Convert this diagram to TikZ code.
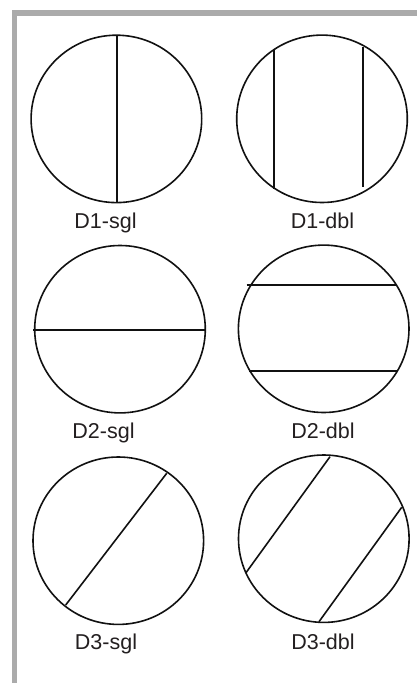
\documentclass[tikz,border=0pt]{standalone}
\usepackage{fontspec}
\setmainfont{Liberation Sans}
\usetikzlibrary{shapes.geometric}
\definecolor{framegray}{HTML}{ABABAB}
\definecolor{inkc}{HTML}{111111}
\definecolor{txtc}{HTML}{231F20}
\begin{document}
\begin{tikzpicture}[x=1pt,y=-1pt,
  disc/.style={draw=inkc,line width=1.6pt,ellipse,minimum width=170.6pt,minimum height=167.4pt,inner sep=0pt,outer sep=0pt},
  chord/.style={draw=inkc,line width=1.6pt},
  lbl/.style={anchor=base,text=txtc,font=\fontsize{21.5}{26}\selectfont,inner sep=0pt}]
\useasboundingbox (0,0) rectangle (417,683);
\fill[white] (0,0) rectangle (417,683);
% gray frame (left and top)
\fill[framegray] (12,10) rectangle (417,16);
\fill[framegray] (12,10) rectangle (16.5,683);
% discs
\node[disc] (c1) at (116.4,118.9) {};
\node[disc] (c2) at (322,118.8) {};
\node[disc] (c3) at (120,329.2) {};
\node[disc] (c4) at (323.7,328.8) {};
\node[disc] (c5) at (118.3,540.7) {};
\node[disc] (c6) at (323.8,538.7) {};
% labels
\node[lbl] (l1) at (105.5,228.3) {D1-sgl};
\node[lbl] (l2) at (322.5,228.3) {D1-dbl};
\node[lbl] (l3) at (103.5,438.3) {D2-sgl};
\node[lbl] (l4) at (323,438.3) {D2-dbl};
\node[lbl] (l5) at (106,649.3) {D3-sgl};
\node[lbl] (l6) at (323,649.3) {D3-dbl};
% chords
\draw[chord] (117,35.2) -- (117,202.6);
\draw[chord] (274,49) -- (274,188.5);
\draw[chord] (363,47) -- (363,187);
\draw[chord] (33,330) -- (205,330);
\draw[chord] (246.7,285) -- (396,285);
\draw[chord] (249.3,371) -- (396.7,371);
\draw[chord] (166.7,473.3) -- (65.7,605);
\draw[chord] (330,456.7) -- (246,572.7);
\draw[chord] (401.7,507.3) -- (319,621.7);
\end{tikzpicture}
\end{document}
